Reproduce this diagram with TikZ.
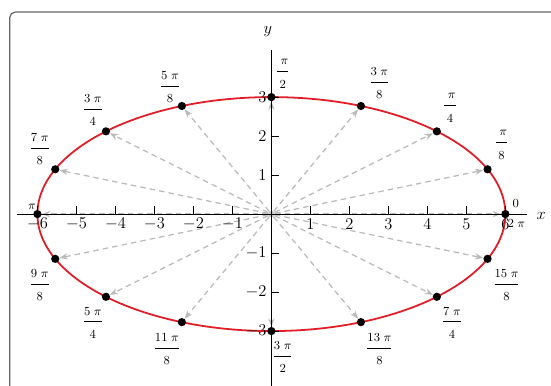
\documentclass[tikz,border=0pt]{standalone}
\usepackage{amsmath,amssymb}
\usepackage{tikz}
\usetikzlibrary{arrows.meta}
\definecolor{curvered}{RGB}{225,30,40}
\newcommand{\afrac}[2]{$\dfrac{\rule[-3.5pt]{0pt}{3.5pt}#1\;\pi}{\rule{0pt}{11pt}#2}$}

\begin{document}
\begin{tikzpicture}[
    dot/.style={circle, fill=black, inner sep=0pt, minimum size=6pt},
    odot/.style={circle, fill=gray!45, inner sep=0pt, minimum size=5pt},
    ray/.style={gray!55, line width=0.9pt, dash pattern=on 4pt off 3pt, -{Stealth[length=6pt, width=4.5pt, fill=gray!70]}},
    lab/.style={font=\small, inner sep=0pt},
    tick/.style={font=\fontsize{11.5}{13}\selectfont, inner sep=0pt}
]
    \useasboundingbox (-6.96,-4.385) rectangle (7.17,5.49);
    \clip (-6.96,-4.385) rectangle (7.17,5.49);

    % Frame
    \draw[black!60, line width=0.9pt, rounded corners=4pt] (-6.71,-5) rectangle (7.6,5.18);

    % Ellipse
    \draw[curvered, line width=1.3pt] (0,0) ellipse (6 and 3);

    % Points and rays
    \node[odot] (O) at (0,0) {};
    \foreach \k in {0,...,15} {
        \node[dot] (p\k) at ({6*cos(22.5*\k)}, {3*sin(22.5*\k)}) {};
        \draw[ray] (O) -- (p\k);
    }

    % Axes
    \draw[line width=0.8pt] (-6.52,0) -- (6.55,0);
    \draw[line width=0.8pt] (0,-4.5) -- (0,4.2);
    \node[tick] (xlab) at (6.92,-0.05) {$x$};
    \node[tick] (ylab) at (-0.09,4.67) {$y$};

    % Ticks
    \foreach \x in {-6,-5,-4,-3,-2,-1,1,2,3,4,5,6} {
        \draw[line width=0.8pt] (\x,0) -- (\x,0.2);
        \node[tick] (tx\x) at (\x,-0.25) {$\x$};
    }
    \foreach \y in {-3,-2,-1,1,2,3} {
        \draw[line width=0.8pt] (0,\y) -- (0.2,\y);
        \node[tick, anchor=east] (ty\y) at (-0.12,\y) {$\y$};
    }

    % Angle labels
    \foreach \k/\num/\den/\lx/\ly in {1/{}/8/5.90/1.77, 2/{}/4/4.58/2.72, 3/3/8/2.77/3.36,
        4/{}/2/0.29/3.59, 5/5/8/-2.60/3.26, 6/3/4/-4.58/2.67, 7/7/8/-5.94/1.67,
        9/9/8/-5.94/-1.82, 10/5/4/-4.58/-2.79, 11/11/8/-2.68/-3.46, 12/3/2/0.29/-3.67,
        13/13/8/2.77/-3.46, 14/7/4/4.63/-2.79, 15/15/8/6.03/-1.82} {
        \node[lab] (l\k) at (\lx,\ly) {\afrac{\num}{\den}};
    }
    \node[lab] (l0) at (6.27,0.27) {$0$};
    \node[lab] (l16) at (6.28,-0.24) {$2\;\pi$};
    \node[lab] (l8) at (-6.14,0.19) {$\pi$};
\end{tikzpicture}
\end{document}
